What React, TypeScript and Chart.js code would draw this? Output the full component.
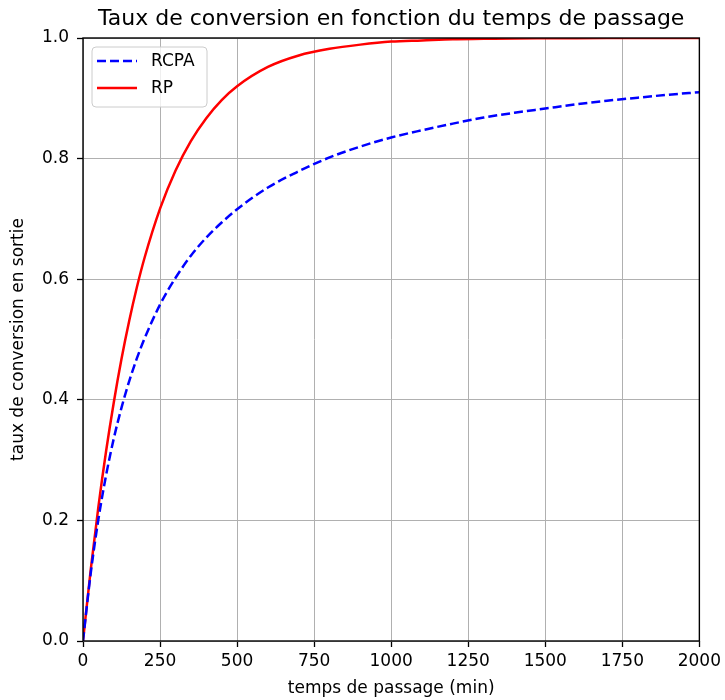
import React, { useEffect, useRef } from 'react';
import { Chart, registerables } from 'chart.js';

Chart.register(...registerables);

const TITLE = 'Taux de conversion en fonction du temps de passage';
const X_LABEL = 'temps de passage (min)';
const Y_LABEL = 'taux de conversion en sortie';
const SERIES_NAMES = ['RCPA', 'RP'];

const TIMES = [0, 25, 50, 75, 100, 125, 150, 175, 200, 250, 300, 350, 400, 450, 500, 600, 700, 800, 900, 1000, 1100, 1200, 1300, 1400, 1500, 1600, 1700, 1800, 1900, 2000];
const RCPA = [0, 0.112, 0.202, 0.275, 0.336, 0.387, 0.431, 0.469, 0.502, 0.558, 0.602, 0.639, 0.669, 0.694, 0.716, 0.752, 0.779, 0.802, 0.82, 0.835, 0.847, 0.858, 0.868, 0.876, 0.883, 0.89, 0.896, 0.901, 0.906, 0.91];
const RP = [0, 0.118, 0.223, 0.315, 0.396, 0.468, 0.531, 0.587, 0.636, 0.717, 0.78, 0.829, 0.867, 0.897, 0.92, 0.952, 0.971, 0.982, 0.989, 0.994, 0.996, 0.998, 0.9986, 0.9992, 0.9995, 0.9997, 0.9998, 0.9999, 0.9999, 1.0];

const X_TICKS = [0, 250, 500, 750, 1000, 1250, 1500, 1750, 2000];
const Y_TICKS = [0, 0.2, 0.4, 0.6, 0.8, 1.0];

const FONT = 'DejaVu Sans';

const framePlugin = {
  id: 'frame',
  afterDatasetsDraw(chart: any) {
    const { ctx, chartArea } = chart;
    ctx.save();
    ctx.setLineDash([]);
    ctx.strokeStyle = '#000';
    ctx.lineWidth = 1.4;
    ctx.strokeRect(chartArea.left, chartArea.top, chartArea.right - chartArea.left, chartArea.bottom - chartArea.top);
    ctx.restore();
  },
};

const legendPlugin = {
  id: 'boxLegend',
  afterDraw(chart: any) {
    const { ctx, chartArea } = chart;
    const x = chartArea.left + 9;
    const y = chartArea.top + 9;
    const w = 115;
    const h = 60;
    const r = 4;
    ctx.save();
    ctx.beginPath();
    ctx.moveTo(x + r, y);
    ctx.lineTo(x + w - r, y);
    ctx.quadraticCurveTo(x + w, y, x + w, y + r);
    ctx.lineTo(x + w, y + h - r);
    ctx.quadraticCurveTo(x + w, y + h, x + w - r, y + h);
    ctx.lineTo(x + r, y + h);
    ctx.quadraticCurveTo(x, y + h, x, y + h - r);
    ctx.lineTo(x, y + r);
    ctx.quadraticCurveTo(x, y, x + r, y);
    ctx.closePath();
    ctx.fillStyle = 'rgba(255,255,255,0.8)';
    ctx.fill();
    ctx.strokeStyle = '#cccccc';
    ctx.lineWidth = 1;
    ctx.stroke();
    chart.data.datasets.forEach((ds: any, i: number) => {
      const ly = y + 14 + i * 27;
      ctx.beginPath();
      ctx.setLineDash(ds.borderDash || []);
      ctx.strokeStyle = ds.borderColor;
      ctx.lineWidth = ds.borderWidth;
      ctx.moveTo(x + 5, ly);
      ctx.lineTo(x + 45, ly);
      ctx.stroke();
      ctx.setLineDash([]);
      ctx.fillStyle = '#000';
      ctx.font = `17px "${FONT}"`;
      ctx.textBaseline = 'middle';
      ctx.textAlign = 'left';
      ctx.fillText(ds.label, x + 59, ly + 1);
    });
    ctx.restore();
  },
};

export default function App() {
  const canvasRef = useRef<HTMLCanvasElement | null>(null);

  useEffect(() => {
    document.body.style.margin = '0';
    const canvas = canvasRef.current;
    if (!canvas) return;
    const chart = new Chart(canvas, {
      type: 'line',
      data: {
        datasets: [
          {
            label: SERIES_NAMES[0],
            data: TIMES.map((t, i) => ({ x: t, y: RCPA[i] })),
            borderColor: '#0000ff',
            borderWidth: 2.5,
            borderDash: [9, 4],
            pointRadius: 0,
            fill: false,
            cubicInterpolationMode: 'monotone',
          },
          {
            label: SERIES_NAMES[1],
            data: TIMES.map((t, i) => ({ x: t, y: RP[i] })),
            borderColor: '#ff0000',
            borderWidth: 2.5,
            pointRadius: 0,
            fill: false,
            cubicInterpolationMode: 'monotone',
          },
        ],
      },
      options: {
        animation: false,
        responsive: false,
        devicePixelRatio: 1,
        layout: { padding: { left: 0, right: 25, top: 0, bottom: 0 } },
        font: { family: FONT },
        plugins: {
          legend: { display: false },
          tooltip: { enabled: false },
          title: {
            display: true,
            text: TITLE,
            fullSize: false,
            color: '#000',
            font: { family: FONT, size: 22, weight: 'normal' },
            padding: { top: 6, bottom: 5.6 },
          },
        },
        scales: {
          x: {
            type: 'linear',
            min: 0,
            max: 2000,
            afterBuildTicks: (scale: any) => {
              scale.ticks = X_TICKS.map((v) => ({ value: v }));
            },
            afterFit: (scale: any) => {
              scale.height = 59;
            },
            ticks: {
              color: '#000',
              font: { family: FONT, size: 17 },
              padding: 4,
              maxRotation: 0,
              autoSkip: false,
              callback: (v: any) => String(v),
            },
            grid: {
              color: '#b0b0b0',
              lineWidth: 1,
              tickColor: '#000',
              tickLength: 6,
              tickWidth: 1.3,
            },
            border: { display: false },
            title: {
              display: true,
              text: X_LABEL,
              color: '#000',
              font: { family: FONT, size: 17 },
              padding: { top: 0, bottom: 1 },
            },
          },
          y: {
            type: 'linear',
            min: 0,
            max: 1,
            afterBuildTicks: (scale: any) => {
              scale.ticks = Y_TICKS.map((v) => ({ value: v }));
            },
            afterFit: (scale: any) => {
              scale.width = 83;
            },
            ticks: {
              color: '#000',
              font: { family: FONT, size: 17 },
              padding: 8,
              autoSkip: false,
              callback: (v: any) => Number(v).toFixed(1),
            },
            grid: {
              color: '#b0b0b0',
              lineWidth: 1,
              tickColor: '#000',
              tickLength: 6,
              tickWidth: 1.3,
            },
            border: { display: false },
            title: {
              display: true,
              text: Y_LABEL,
              color: '#000',
              font: { family: FONT, size: 17 },
              padding: { top: 8, bottom: 0 },
            },
          },
        },
      } as any,
      plugins: [framePlugin, legendPlugin],
    });
    return () => chart.destroy();
  }, []);

  return (
    <div style={{ width: 725, height: 700 }}>
      <canvas ref={canvasRef} width={725} height={700} style={{ display: 'block' }} />
    </div>
  );
}
